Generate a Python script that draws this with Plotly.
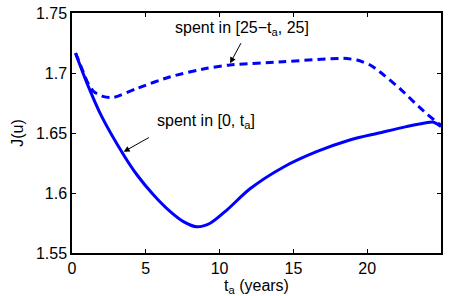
import plotly.graph_objects as go

t_solid = [0.24, 1.0, 2.0, 3.5, 4.41, 5.53, 6.66, 7.55, 8.45, 9.36, 10.49, 12.06, 14.31, 16.57, 18.82, 20.8, 22.65, 24.0, 24.5, 25.0]
j_solid = [1.7164, 1.692, 1.664, 1.6317, 1.615, 1.5983, 1.5844, 1.5761, 1.5718, 1.5748, 1.5858, 1.6035, 1.6215, 1.6344, 1.6442, 1.650, 1.6553, 1.6586, 1.659, 1.6555]

t_dash = [0.24, 0.57, 1.03, 1.47, 2.15, 2.82, 4.41, 6.66, 9.14, 10.7, 14.3, 18.4, 19.3, 20.2, 20.85, 22.2, 23.5, 24.8, 25.0]
j_dash = [1.7167, 1.7067, 1.6928, 1.6844, 1.6803, 1.6797, 1.6872, 1.6969, 1.7039, 1.7067, 1.7094, 1.7122, 1.7108, 1.7067, 1.701, 1.6872, 1.6719, 1.6581, 1.6567]

x_ticks = [0, 5, 10, 15, 20, 25]
x_tick_text = ["0", "5", "10", "15", "20", "25"]
y_ticks = [1.55, 1.6, 1.65, 1.7, 1.75]
y_tick_text = ["1.55", "1.6", "1.65", "1.7", "1.75"]

font = "Liberation Sans, Arial, sans-serif"

fig = go.Figure()
fig.add_trace(go.Scatter(x=t_dash, y=j_dash, mode="lines",
                         line=dict(color="#0000ff", width=3, dash="8px,5px", shape="spline", smoothing=0.6),
                         showlegend=False))
fig.add_trace(go.Scatter(x=t_solid, y=j_solid, mode="lines",
                         line=dict(color="#0000ff", width=3, shape="spline", smoothing=0.8),
                         showlegend=False))

# arrows
fig.add_annotation(x=10.71, y=1.7081, ax=11.7, ay=-21.6,
                   axref="pixel", ayref="pixel", showarrow=True,
                   arrowhead=2, arrowsize=1.2, arrowwidth=1, arrowcolor="black",
                   text="")
fig.add_annotation(x=3.5, y=1.6344, ax=26.7, ay=-15,
                   axref="pixel", ayref="pixel", showarrow=True,
                   arrowhead=2, arrowsize=1.2, arrowwidth=1, arrowcolor="black",
                   text="")
# labels
fig.add_annotation(x=11.52, y=1.7375, text="spent in [25\u2212t<sub>a</sub>, 25]",
                   showarrow=False, font=dict(family=font, size=16, color="black"))
fig.add_annotation(x=9.09, y=1.66, text="spent in [0, t<sub>a</sub>]",
                   showarrow=False, font=dict(family=font, size=16, color="black"))

axis_common = dict(showgrid=False, zeroline=False, showline=True, linecolor="black",
                   linewidth=1.5, mirror="ticks", ticks="inside", ticklen=4,
                   tickcolor="black", tickfont=dict(family=font, size=16, color="black"),
                   automargin=False)

fig.update_xaxes(range=[0, 25], tickvals=x_ticks, ticktext=x_tick_text,
                 title=dict(text="t<sub>a</sub> (years)", font=dict(family=font, size=16, color="black"), standoff=0),
                 **axis_common)
fig.update_yaxes(range=[1.55, 1.75], tickvals=y_ticks, ticktext=y_tick_text,
                 title=dict(text="J(u)", font=dict(family=font, size=16, color="black"), standoff=8),
                 **axis_common)

fig.update_layout(width=449, height=296, margin=dict(l=71.5, r=7.5, t=13, b=43),
                  plot_bgcolor="white", paper_bgcolor="white")

fig.write_html("out.html", config={"displayModeBar": False},
               post_script="document.body.style.margin='0';document.body.style.overflow='hidden';")
